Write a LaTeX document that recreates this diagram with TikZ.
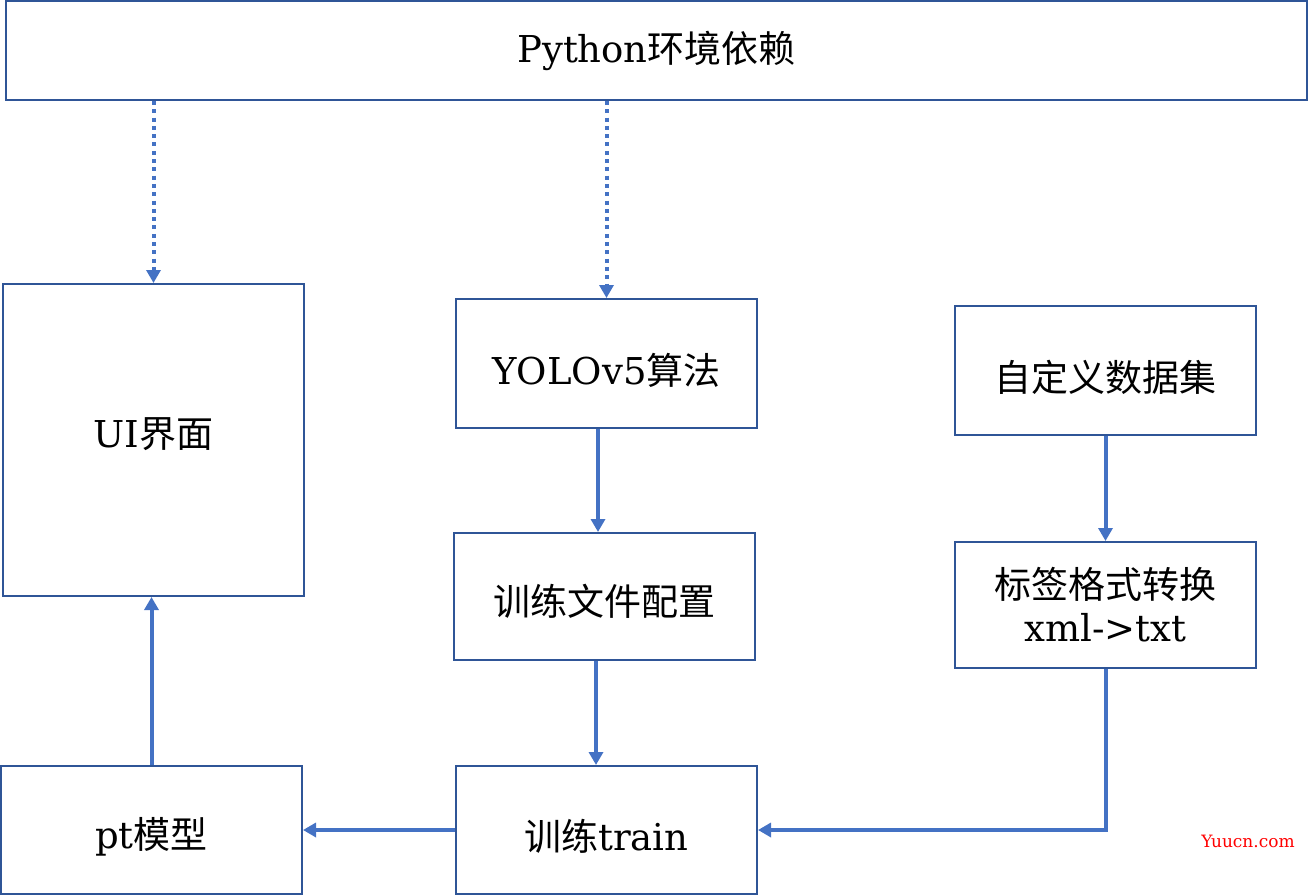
\documentclass[tikz,border=0pt]{standalone}
\usepackage{fontspec}
\setmainfont{DejaVu Serif}
\newfontfamily\cjk{Noto Sans CJK SC}
\newcommand\zh[1]{{\cjk #1}}
\newcommand\shiftv[2]{\raisebox{#1}[\height][\depth]{#2}}
\usetikzlibrary{arrows.meta}
\definecolor{boxblue}{HTML}{2F5597}
\definecolor{arrblue}{HTML}{4472C4}
\definecolor{wmred}{HTML}{FF0000}
\begin{document}
\begin{tikzpicture}[x=1pt,y=-1pt,
  box/.style={draw=boxblue, line width=2pt, fill=white, inner sep=0pt, align=center,
    font=\fontsize{37}{43}\selectfont},
  arr/.style={draw=arrblue, line width=4pt, -{Triangle[width=14pt,length=13pt]}},
  dotarr/.style={draw=arrblue, line width=4pt, dash pattern=on 4pt off 4.3pt,
    -{Triangle[width=14pt,length=13pt]}}]
\useasboundingbox (0,0) rectangle (1309,896);
\node[box, minimum width=1301, minimum height=99] (py) at (656.5,50.5) {Python\zh{环境依赖}};
\node[box, minimum width=301, minimum height=312] (ui) at (153.5,440) {\shiftv{6pt}{UI\zh{界面}}};
\node[box, minimum width=301, minimum height=129] (yolo) at (606.5,363.5) {\shiftv{-7pt}{YOLOv5\zh{算法}}};
\node[box, minimum width=301, minimum height=127] (cfg) at (604.5,596.5) {\shiftv{-5pt}{\zh{训练文件配置}}};
\node[box, minimum width=301, minimum height=129] (data) at (1105.5,370.5) {\shiftv{-7pt}{\zh{自定义数据集}}};
\node[box, minimum width=301, minimum height=126] (label) at (1105.5,605) {\zh{标签格式转换}\\xml->txt};
\node[box, minimum width=301, minimum height=128] (pt) at (151.5,830) {\shiftv{-7pt}{pt\zh{模型}}};
\node[box, minimum width=301, minimum height=128] (train) at (606.5,830) {\shiftv{-6pt}{\zh{训练}train}};
\node[text=wmred, font=\fontsize{17}{19}\selectfont, inner sep=0pt] (wm) at (1248,841) {Yuucn.com};
\draw[dotarr] (py.south -| ui.north) -- (ui.north);
\draw[dotarr] (py.south -| yolo.north) -- (yolo.north);
\draw[arr] ([xshift=-8.5pt]yolo.south) -- ([xshift=-8.5pt]yolo.south |- cfg.north);
\draw[arr] ([xshift=-8.5pt]cfg.south) -- ([xshift=-8.5pt]cfg.south |- train.north);
\draw[arr] (data.south) -- (label.north);
\draw[arr] (label.south) |- (train.east);
\draw[arr] (train.west) -- (pt.east);
\draw[arr] (pt.north) -- (pt.north |- ui.south);
\end{tikzpicture}
\end{document}
